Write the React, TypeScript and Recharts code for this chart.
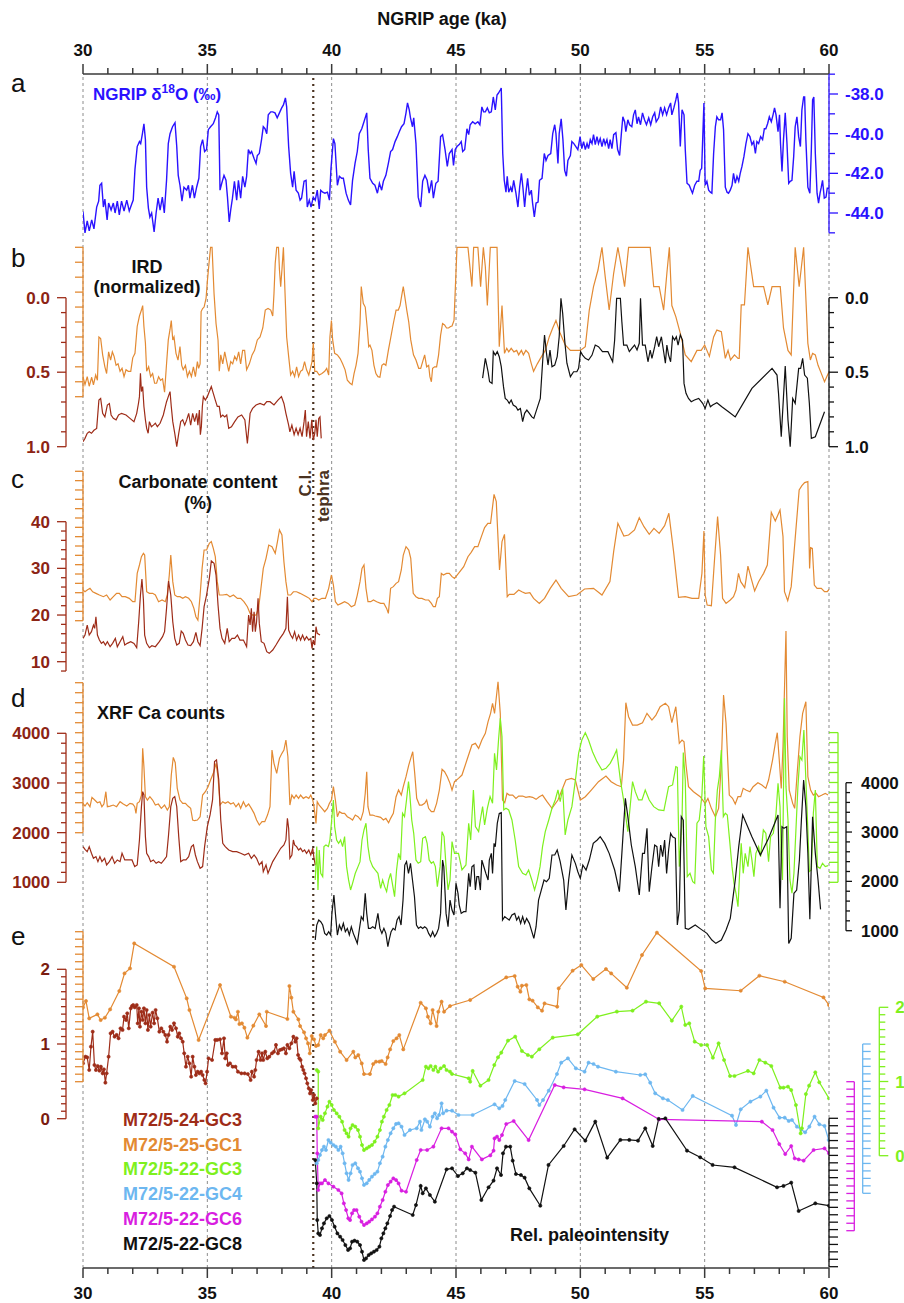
import React from "react";
import { ComposedChart, Line, XAxis, YAxis, ReferenceLine } from "recharts";

const W = 904;
const H = 1303;
const PLOT_TOP = 74;
const PLOT_BOTTOM = 1268;
const PLOT_LEFT = 83;
const PLOT_RIGHT = 829;
const FONT = '"Liberation Sans", Arial, Helvetica, sans-serif';

const C = {
  blue: "#2a12ff",
  orange: "#e38a33",
  red: "#9e2c18",
  redText: "#8c2414",
  green: "#7ef01e",
  lblue: "#6db7f0",
  magenta: "#d81ee0",
  black: "#111111",
  brown: "#4a3220",
  grid: "#8c8c8c",
  axis: "#3a3a3a",
};

// ---------- axis ticks ----------
const AGE_DOMAIN: [number, number] = [30, 60];
const AGE_TICKS = [30,31,32,33,34,35,36,37,38,39,40,41,42,43,44,45,46,47,48,49,50,51,52,53,54,55,56,57,58,59,60];
const AGE_GRID = [30, 35, 40, 45, 50, 55, 60];
const TEPHRA_AGE = 39.26;
const D18O_TICKS = [-37, -38, -39, -40, -41, -42, -43, -44, -45];
const D18O_LABELS = [-38, -40, -42, -44];
const IRD_TICKS = [0, 0.1, 0.2, 0.3, 0.4, 0.5, 0.6, 0.7, 0.8, 0.9, 1];
const IRD_LABELS = [0, 0.5, 1];
const CARB3_TICKS = [8,10,12,14,16,18,20,22,24,26,28,30,32,34,36,38,40];
const CARB1_TICKS = [20,22,24,26,28,30,32,34,36,38,40,42,44,46,48,50,52];
const CARB_LABELS = [10, 20, 30, 40];
const XRF_TICKS = [1000,1200,1400,1600,1800,2000,2200,2400,2600,2800,3000,3200,3400,3600,3800,4000];
const XRF_LABELS = [1000, 2000, 3000, 4000];
const RPI_TICKS = [0,0.1,0.2,0.3,0.4,0.5,0.6,0.7,0.8,0.9,1,1.1,1.2,1.3,1.4,1.5,1.6,1.7,1.8,1.9,2];
const RPI_LABELS = [0, 1, 2];

// ---------- data: [age ka, value] ----------
const NGRIP_D18O = [
[30.0,-43.93],[30.08,-45.0],[30.17,-44.4],[30.25,-44.9],[30.35,-44.35],[30.44,-44.8],[30.55,-43.7],[30.63,-43.4],[30.68,-42.6],[30.75,-42.5],[30.82,-43.7],[30.88,-43.3],[30.97,-44.35],[31.03,-43.5],[31.13,-43.85],[31.22,-43.5],[31.29,-44.0],[31.38,-43.4],[31.46,-44.1],[31.55,-43.4],[31.65,-43.9],[31.76,-43.35],[31.86,-43.9],[31.96,-43.55],[32.02,-43.35],[32.09,-41.8],[32.18,-40.65],[32.27,-40.4],[32.32,-40.5],[32.39,-40.0],[32.45,-39.5],[32.51,-40.3],[32.56,-42.7],[32.63,-43.75],[32.69,-44.2],[32.76,-44.0],[32.86,-44.95],[32.94,-44.0],[33.02,-43.25],[33.1,-43.85],[33.19,-43.2],[33.27,-44.0],[33.36,-42.35],[33.43,-40.5],[33.5,-40.0],[33.6,-39.65],[33.7,-39.45],[33.77,-40.65],[33.83,-42.1],[33.9,-42.6],[33.98,-43.4],[34.06,-42.7],[34.17,-42.85],[34.24,-42.6],[34.3,-43.25],[34.4,-42.6],[34.48,-43.25],[34.57,-42.7],[34.66,-42.25],[34.73,-40.65],[34.81,-40.3],[34.89,-40.9],[34.97,-40.8],[35.04,-39.8],[35.13,-39.65],[35.24,-39.5],[35.33,-39.2],[35.4,-38.9],[35.46,-39.05],[35.51,-42.85],[35.58,-42.5],[35.67,-42.1],[35.75,-42.35],[35.81,-43.2],[35.88,-44.45],[35.94,-43.85],[36.01,-43.25],[36.09,-42.4],[36.18,-43.35],[36.25,-42.35],[36.34,-43.25],[36.42,-42.15],[36.51,-42.7],[36.58,-42.15],[36.65,-40.8],[36.72,-41.0],[36.78,-40.9],[36.88,-41.25],[36.96,-41.5],[37.01,-41.1],[37.09,-41.0],[37.18,-40.3],[37.25,-39.65],[37.32,-39.75],[37.39,-40.0],[37.45,-39.05],[37.55,-38.9],[37.63,-38.9],[37.72,-38.95],[37.81,-39.2],[37.9,-38.95],[37.99,-38.7],[38.06,-38.55],[38.14,-38.2],[38.19,-38.65],[38.27,-40.65],[38.35,-42.0],[38.43,-42.7],[38.49,-41.9],[38.57,-42.85],[38.66,-43.0],[38.73,-43.35],[38.79,-43.25],[38.89,-42.4],[38.97,-42.35],[39.02,-43.7],[39.1,-43.35],[39.17,-43.7],[39.26,-43.2],[39.34,-43.35],[39.42,-42.85],[39.5,-43.8],[39.56,-42.85],[39.64,-42.95],[39.73,-43.0],[39.83,-42.95],[39.91,-43.35],[39.97,-41.8],[40.07,-40.25],[40.13,-40.5],[40.23,-42.6],[40.31,-42.15],[40.4,-42.25],[40.47,-42.25],[40.58,-43.0],[40.67,-43.35],[40.76,-43.6],[40.84,-42.35],[40.94,-41.5],[41.03,-40.9],[41.11,-40.0],[41.21,-39.75],[41.3,-39.4],[41.41,-38.95],[41.47,-40.8],[41.54,-42.25],[41.65,-42.5],[41.74,-42.6],[41.84,-43.0],[41.92,-42.5],[42.01,-42.85],[42.08,-42.4],[42.18,-42.1],[42.28,-41.5],[42.37,-40.9],[42.45,-40.8],[42.55,-40.4],[42.64,-40.15],[42.72,-39.9],[42.81,-39.65],[42.91,-39.5],[42.99,-38.95],[43.05,-38.45],[43.12,-38.8],[43.17,-39.2],[43.25,-39.65],[43.3,-39.2],[43.39,-40.5],[43.48,-43.2],[43.58,-43.7],[43.66,-42.4],[43.75,-42.1],[43.84,-42.35],[43.92,-43.0],[44.02,-42.35],[44.09,-43.25],[44.19,-42.5],[44.28,-42.4],[44.38,-40.15],[44.46,-40.05],[44.56,-40.8],[44.65,-41.65],[44.73,-41.0],[44.84,-40.8],[44.9,-41.6],[44.97,-40.8],[45.04,-40.65],[45.13,-40.55],[45.21,-40.4],[45.27,-40.9],[45.35,-40.8],[45.44,-39.75],[45.51,-40.05],[45.57,-39.55],[45.67,-39.4],[45.77,-39.5],[45.88,-39.4],[45.96,-39.55],[46.04,-38.65],[46.11,-38.9],[46.18,-38.9],[46.26,-38.7],[46.34,-38.95],[46.42,-38.9],[46.5,-38.15],[46.58,-38.8],[46.65,-38.05],[46.71,-37.95],[46.78,-37.8],[46.82,-37.7],[46.88,-41.0],[46.94,-42.35],[47.01,-42.95],[47.06,-42.15],[47.12,-42.95],[47.2,-42.7],[47.25,-42.95],[47.32,-42.35],[47.41,-43.0],[47.49,-43.7],[47.56,-42.7],[47.63,-42.0],[47.69,-42.7],[47.76,-43.7],[47.81,-43.0],[47.88,-42.25],[47.95,-43.1],[48.03,-42.85],[48.08,-43.5],[48.15,-44.2],[48.22,-43.5],[48.3,-43.45],[48.36,-42.35],[48.46,-42.25],[48.55,-41.0],[48.62,-41.35],[48.7,-41.1],[48.81,-41.0],[48.89,-40.0],[48.97,-39.55],[49.02,-40.0],[49.1,-41.5],[49.15,-40.0],[49.23,-39.25],[49.3,-40.3],[49.37,-41.85],[49.44,-42.15],[49.5,-41.35],[49.6,-41.1],[49.66,-40.4],[49.74,-40.5],[49.82,-40.65],[49.9,-40.8],[49.99,-40.15],[50.06,-40.75],[50.13,-40.4],[50.2,-40.8],[50.27,-40.5],[50.33,-40.75],[50.4,-40.3],[50.47,-40.5],[50.53,-40.05],[50.6,-40.55],[50.67,-40.15],[50.73,-40.5],[50.8,-40.25],[50.87,-40.65],[50.94,-40.25],[51.0,-40.55],[51.07,-40.3],[51.14,-40.75],[51.2,-40.3],[51.27,-40.75],[51.34,-40.05],[51.43,-39.95],[51.5,-40.8],[51.58,-41.1],[51.65,-40.0],[51.71,-39.15],[51.78,-39.4],[51.83,-39.9],[51.91,-39.3],[51.98,-39.55],[52.07,-39.65],[52.14,-39.05],[52.21,-38.8],[52.28,-39.5],[52.34,-39.15],[52.42,-39.55],[52.5,-38.95],[52.58,-39.3],[52.66,-39.55],[52.75,-39.2],[52.83,-39.55],[52.91,-39.15],[52.99,-38.95],[53.05,-39.4],[53.15,-39.2],[53.23,-38.65],[53.31,-39.05],[53.39,-38.7],[53.47,-39.05],[53.55,-38.7],[53.63,-38.45],[53.68,-39.05],[53.76,-38.7],[53.84,-38.3],[53.9,-37.95],[53.95,-38.45],[54.02,-40.65],[54.09,-38.8],[54.17,-39.05],[54.22,-40.8],[54.29,-42.5],[54.38,-42.6],[54.46,-42.85],[54.51,-43.0],[54.6,-42.6],[54.69,-42.4],[54.76,-42.4],[54.82,-41.85],[54.88,-41.75],[54.92,-40.3],[54.97,-38.45],[55.02,-42.6],[55.09,-42.4],[55.16,-42.85],[55.23,-42.95],[55.29,-43.0],[55.36,-41.0],[55.43,-39.65],[55.49,-39.15],[55.56,-39.3],[55.64,-39.3],[55.7,-38.95],[55.76,-39.8],[55.83,-42.7],[55.9,-42.95],[55.96,-43.0],[56.03,-42.85],[56.1,-42.6],[56.16,-42.0],[56.23,-42.5],[56.3,-42.15],[56.37,-42.4],[56.43,-42.0],[56.5,-41.65],[56.58,-41.15],[56.66,-40.5],[56.74,-40.0],[56.82,-40.15],[56.9,-40.55],[56.97,-40.4],[57.04,-41.0],[57.1,-40.4],[57.17,-40.5],[57.25,-40.15],[57.33,-40.3],[57.4,-39.75],[57.46,-39.75],[57.53,-39.5],[57.6,-39.15],[57.68,-39.4],[57.75,-39.05],[57.81,-38.7],[57.87,-39.05],[57.95,-39.9],[58.01,-39.05],[58.05,-40.5],[58.11,-41.9],[58.17,-40.3],[58.24,-38.95],[58.31,-40.5],[58.38,-42.5],[58.44,-42.4],[58.51,-42.35],[58.58,-41.15],[58.64,-39.65],[58.71,-39.15],[58.78,-40.15],[58.85,-40.65],[58.91,-38.8],[58.98,-38.15],[59.02,-38.15],[59.07,-40.3],[59.15,-42.7],[59.23,-43.0],[59.29,-40.8],[59.34,-38.3],[59.39,-38.15],[59.45,-41.0],[59.52,-43.0],[59.58,-43.5],[59.64,-43.0],[59.69,-42.7],[59.74,-42.35],[59.81,-43.25],[59.88,-43.2],[59.93,-42.75],[60.0,-42.75]
];

const IRD_25GC1 = [
[30.0,0.866],[30.08,0.92],[30.17,0.866],[30.25,0.93],[30.35,0.87],[30.42,0.92],[30.51,0.855],[30.58,0.89],[30.64,0.6],[30.71,0.61],[30.79,0.72],[30.88,0.8],[30.95,0.845],[31.03,0.7],[31.11,0.755],[31.18,0.7],[31.25,0.73],[31.33,0.79],[31.41,0.78],[31.49,0.83],[31.57,0.81],[31.65,0.866],[31.73,0.82],[31.82,0.83],[31.92,0.83],[32.0,0.74],[32.09,0.71],[32.18,0.53],[32.27,0.46],[32.35,0.42],[32.4,0.39],[32.45,0.53],[32.51,0.64],[32.56,0.83],[32.64,0.8],[32.72,0.866],[32.8,0.845],[32.88,0.91],[32.96,0.91],[33.04,0.866],[33.12,0.89],[33.2,0.88],[33.28,0.97],[33.36,0.78],[33.43,0.62],[33.5,0.55],[33.55,0.49],[33.61,0.62],[33.66,0.6],[33.74,0.71],[33.82,0.755],[33.9,0.665],[33.97,0.79],[34.03,0.82],[34.12,0.79],[34.2,0.866],[34.28,0.83],[34.36,0.866],[34.44,0.8],[34.52,0.866],[34.6,0.765],[34.65,0.81],[34.71,0.78],[34.75,0.43],[34.81,0.41],[34.87,0.4],[34.95,0.34],[35.0,0.23],[35.08,0.085],[35.13,0.0],[35.19,0.0],[35.27,0.31],[35.35,0.51],[35.43,0.62],[35.48,0.83],[35.54,0.72],[35.62,0.78],[35.7,0.7],[35.78,0.765],[35.86,0.83],[35.94,0.765],[36.02,0.78],[36.1,0.73],[36.18,0.755],[36.26,0.7],[36.34,0.78],[36.42,0.69],[36.5,0.69],[36.58,0.82],[36.69,0.78],[36.8,0.72],[36.9,0.69],[37.01,0.62],[37.12,0.6],[37.23,0.54],[37.33,0.42],[37.44,0.41],[37.55,0.42],[37.63,0.46],[37.68,0.31],[37.73,0.107],[37.79,0.0],[37.86,0.0],[37.9,0.15],[37.95,0.263],[38.0,0.15],[38.06,0.0],[38.12,0.286],[38.19,0.6],[38.27,0.73],[38.35,0.855],[38.43,0.83],[38.51,0.866],[38.59,0.8],[38.67,0.866],[38.75,0.83],[38.83,0.82],[38.91,0.765],[38.99,0.82],[39.08,0.855],[39.16,0.8],[39.21,0.765],[39.26,0.64],[39.32,0.83],[39.4,0.83],[39.5,0.855],[39.61,0.845],[39.72,0.83],[39.8,0.81],[39.88,0.855],[39.93,0.6],[39.99,0.49],[40.04,0.62],[40.12,0.71],[40.23,0.72],[40.34,0.745],[40.44,0.78],[40.54,0.82],[40.63,0.89],[40.74,0.91],[40.82,0.92],[40.9,0.845],[40.98,0.79],[41.06,0.71],[41.14,0.51],[41.19,0.263],[41.27,0.375],[41.35,0.4],[41.43,0.54],[41.49,0.665],[41.54,0.655],[41.62,0.69],[41.7,0.79],[41.78,0.845],[41.86,0.866],[41.94,0.87],[42.02,0.79],[42.1,0.78],[42.18,0.79],[42.28,0.69],[42.37,0.61],[42.48,0.51],[42.59,0.42],[42.68,0.42],[42.75,0.39],[42.83,0.31],[42.88,0.263],[42.95,0.34],[43.02,0.42],[43.1,0.5],[43.18,0.62],[43.29,0.72],[43.39,0.755],[43.5,0.81],[43.58,0.81],[43.66,0.765],[43.74,0.72],[43.82,0.8],[43.9,0.79],[43.95,0.866],[44.01,0.9],[44.06,0.81],[44.14,0.8],[44.22,0.8],[44.3,0.72],[44.38,0.59],[44.46,0.51],[44.54,0.52],[44.62,0.54],[44.7,0.54],[44.78,0.53],[44.84,0.527],[44.92,0.49],[44.97,0.286],[45.04,0.0],[45.24,0.0],[45.48,0.0],[45.64,0.263],[45.71,0.0],[45.88,0.0],[45.99,0.263],[46.1,0.0],[46.18,0.13],[46.26,0.39],[46.38,0.0],[46.65,0.0],[46.74,0.665],[46.85,0.39],[46.95,0.71],[47.04,0.676],[47.12,0.7],[47.22,0.676],[47.33,0.7],[47.44,0.69],[47.52,0.72],[47.63,0.69],[47.71,0.72],[47.81,0.69],[47.92,0.71],[48.03,0.78],[48.12,0.83],[48.27,0.78],[48.39,0.745],[48.59,0.69],[48.75,0.6],[48.89,0.54],[49.02,0.49],[49.19,0.576],[49.39,0.654],[49.6,0.69],[49.8,0.69],[50.0,0.69],[50.2,0.665],[50.36,0.42],[50.53,0.263],[50.71,0.152],[50.87,0.0],[51.0,0.196],[51.16,0.42],[51.34,0.174],[51.51,0.0],[51.65,0.13],[51.78,0.263],[51.94,0.0],[52.34,0.0],[52.81,0.0],[52.95,0.263],[53.17,0.263],[53.35,0.42],[53.48,0.174],[53.58,0.0],[53.68,0.39],[53.84,0.464],[54.02,0.576],[54.22,0.72],[54.46,0.765],[54.69,0.69],[54.86,0.69],[55.0,0.654],[55.19,0.73],[55.36,0.6],[55.49,0.554],[55.67,0.565],[55.83,0.743],[55.94,0.69],[56.04,0.754],[56.2,0.72],[56.34,0.743],[56.39,0.743],[56.47,0.386],[56.6,0.386],[56.74,0.0],[56.97,0.263],[57.37,0.263],[57.54,0.386],[57.71,0.263],[58.04,0.263],[58.17,0.54],[58.35,0.69],[58.48,0.72],[58.64,0.0],[58.8,0.263],[58.98,0.0],[59.15,0.643],[59.25,0.754],[59.34,0.71],[59.45,0.72],[59.56,0.79],[59.69,0.844],[59.82,0.9],[60.0,0.833]
];

const IRD_24GC3 = [
[30.0,0.966],[30.08,0.944],[30.17,0.91],[30.25,0.9],[30.34,0.91],[30.44,0.89],[30.55,0.877],[30.64,0.687],[30.71,0.676],[30.79,0.776],[30.88,0.8],[30.98,0.72],[31.06,0.71],[31.13,0.787],[31.22,0.81],[31.33,0.82],[31.43,0.787],[31.55,0.776],[31.73,0.787],[31.89,0.81],[32.05,0.832],[32.16,0.776],[32.23,0.71],[32.27,0.664],[32.31,0.508],[32.35,0.63],[32.4,0.597],[32.45,0.73],[32.51,0.82],[32.56,0.877],[32.62,0.91],[32.67,0.832],[32.75,0.866],[32.83,0.855],[32.91,0.843],[32.99,0.866],[33.1,0.843],[33.23,0.787],[33.36,0.698],[33.43,0.664],[33.5,0.63],[33.55,0.73],[33.61,0.832],[33.69,0.91],[33.77,1.0],[33.85,0.91],[33.93,0.832],[34.01,0.82],[34.09,0.855],[34.17,0.82],[34.25,0.776],[34.33,0.855],[34.41,0.776],[34.49,0.832],[34.57,0.776],[34.62,0.855],[34.68,0.754],[34.72,0.92],[34.76,0.866],[34.8,0.73],[34.84,0.664],[34.92,0.687],[35.0,0.664],[35.08,0.63],[35.16,0.597],[35.24,0.642],[35.32,0.687],[35.4,0.73],[35.48,0.73],[35.54,0.8],[35.62,0.787],[35.7,0.8],[35.78,0.787],[35.86,0.877],[35.97,0.866],[36.1,0.832],[36.23,0.8],[36.38,0.787],[36.51,0.82],[36.61,0.978],[36.72,0.776],[36.82,0.743],[36.96,0.72],[37.12,0.71],[37.28,0.72],[37.39,0.698],[37.52,0.698],[37.68,0.72],[37.84,0.687],[37.98,0.664],[38.08,0.71],[38.16,0.776],[38.27,0.855],[38.32,0.9],[38.4,0.855],[38.49,0.92],[38.57,0.877],[38.65,0.92],[38.73,0.877],[38.81,0.933],[38.89,0.832],[38.94,0.754],[38.99,0.933],[39.06,0.832],[39.13,0.944],[39.2,0.82],[39.26,0.955],[39.32,0.91],[39.37,0.82],[39.42,0.933],[39.48,0.81],[39.53,0.8],[39.58,0.944]
];

const IRD_22GC8 = [
[46.07,0.54],[46.18,0.407],[46.29,0.497],[46.35,0.564],[46.45,0.575],[46.5,0.362],[46.58,0.385],[46.66,0.362],[46.74,0.396],[46.82,0.463],[46.91,0.597],[46.98,0.676],[47.06,0.687],[47.14,0.709],[47.22,0.687],[47.3,0.72],[47.41,0.732],[47.49,0.754],[47.59,0.743],[47.68,0.832],[47.76,0.776],[47.85,0.754],[47.95,0.776],[48.05,0.8],[48.13,0.81],[48.26,0.743],[48.39,0.676],[48.48,0.44],[48.56,0.25],[48.64,0.374],[48.7,0.452],[48.78,0.351],[48.86,0.463],[48.97,0.452],[49.07,0.396],[49.15,0.262],[49.22,0.004],[49.29,0.105],[49.37,0.284],[49.46,0.44],[49.6,0.53],[49.73,0.497],[49.86,0.497],[49.93,0.474],[50.01,0.362],[50.09,0.385],[50.2,0.407],[50.33,0.418],[50.47,0.385],[50.6,0.318],[50.73,0.329],[50.89,0.362],[51.11,0.362],[51.3,0.43],[51.38,0.284],[51.46,0.004],[51.61,0.004],[51.67,0.161],[51.74,0.318],[51.87,0.318],[51.97,0.362],[52.07,0.34],[52.18,0.318],[52.28,0.351],[52.37,0.306],[52.42,0.004],[52.5,0.318],[52.61,0.318],[52.72,0.43],[52.81,0.351],[52.88,0.407],[52.99,0.329],[53.07,0.262],[53.15,0.329],[53.26,0.262],[53.34,0.351],[53.42,0.44],[53.48,0.318],[53.55,0.385],[53.63,0.43],[53.71,0.262],[53.79,0.284],[53.86,0.262],[53.93,0.318],[54.02,0.25],[54.11,0.284],[54.17,0.575],[54.25,0.642],[54.35,0.676],[54.46,0.698],[54.59,0.687],[54.76,0.676],[54.92,0.709],[55.02,0.743],[55.13,0.687],[55.23,0.732],[55.32,0.72],[55.49,0.705],[55.69,0.732],[55.96,0.765],[56.23,0.8],[56.9,0.609],[57.71,0.474],[57.91,0.519],[57.97,0.642],[58.08,0.933],[58.17,0.664],[58.24,0.459],[58.35,0.82],[58.44,1.0],[58.54,0.676],[58.64,0.709],[58.78,0.474],[58.86,0.474],[58.94,0.407],[59.02,0.519],[59.13,0.54],[59.21,0.709],[59.29,0.944],[59.45,0.933],[59.82,0.765]
];

const CARB_25GC1 = [
[30.0,26.57],[30.08,26.2],[30.17,26.57],[30.28,26.93],[30.39,26.2],[30.52,25.86],[30.66,25.5],[30.82,25.14],[30.95,25.5],[31.09,24.43],[31.22,25.14],[31.35,25.86],[31.46,25.86],[31.57,25.14],[31.7,25.14],[31.86,24.79],[32.0,24.07],[32.09,24.07],[32.18,30.14],[32.27,31.93],[32.35,33.71],[32.43,34.43],[32.48,34.07],[32.56,26.2],[32.67,25.86],[32.8,25.86],[32.91,25.5],[33.04,24.07],[33.18,24.43],[33.31,24.07],[33.39,25.5],[33.47,29.79],[33.53,34.07],[33.61,28.36],[33.69,25.5],[33.79,25.14],[33.9,25.14],[34.01,24.79],[34.12,25.14],[34.25,24.79],[34.36,24.07],[34.46,22.64],[34.54,20.86],[34.62,20.14],[34.71,25.5],[34.79,31.21],[34.87,35.14],[34.97,35.14],[35.08,36.57],[35.16,36.93],[35.24,35.5],[35.32,33.71],[35.4,28.36],[35.48,25.5],[35.62,25.5],[35.78,25.64],[35.91,25.14],[36.05,25.5],[36.21,24.79],[36.34,24.79],[36.47,24.07],[36.61,23.0],[36.72,21.57],[36.82,21.21],[36.96,21.21],[37.06,22.64],[37.14,26.2],[37.25,31.21],[37.36,33.36],[37.47,36.21],[37.6,35.86],[37.73,34.43],[37.82,36.93],[37.9,39.43],[38.0,38.36],[38.08,32.64],[38.16,28.36],[38.24,25.5],[38.35,25.5],[38.46,26.2],[38.59,26.2],[38.73,25.86],[38.86,25.5],[38.99,25.14],[39.1,24.79],[39.21,24.07],[39.29,24.79],[39.37,24.79],[39.48,24.43],[39.61,24.79],[39.75,24.79],[39.88,26.93],[39.99,29.79],[40.07,27.64],[40.15,24.07],[40.25,23.36],[40.39,23.71],[40.52,24.07],[40.66,23.71],[40.79,23.0],[40.93,23.36],[41.03,25.5],[41.14,28.36],[41.22,31.21],[41.3,31.93],[41.38,26.93],[41.46,24.07],[41.57,24.07],[41.68,24.43],[41.81,24.07],[41.97,23.71],[42.1,23.71],[42.21,22.64],[42.28,21.57],[42.37,26.93],[42.48,27.29],[42.59,28.0],[42.69,28.36],[42.8,30.86],[42.88,34.07],[42.99,35.86],[43.1,35.14],[43.18,33.36],[43.28,25.86],[43.39,25.14],[43.5,24.79],[43.63,24.79],[43.77,24.43],[43.9,24.43],[44.01,23.71],[44.09,23.0],[44.17,23.0],[44.25,24.79],[44.33,25.14],[44.41,30.14],[44.49,29.79],[44.62,30.14],[44.73,30.14],[44.84,29.43],[44.94,29.07],[45.1,30.14],[45.31,31.57],[45.48,33.71],[45.61,34.64],[45.75,35.86],[45.88,35.86],[46.02,38.0],[46.15,39.93],[46.28,40.86],[46.39,40.86],[46.53,47.07],[46.62,45.5],[46.75,30.86],[46.85,36.93],[46.95,38.5],[47.06,25.14],[47.14,25.64],[47.33,25.64],[47.52,26.57],[47.65,26.21],[47.79,25.86],[47.97,26.0],[48.12,24.79],[48.35,23.71],[48.56,24.79],[48.79,26.93],[49.02,28.71],[49.23,26.93],[49.53,25.14],[49.86,25.5],[50.17,26.79],[50.53,26.93],[50.87,25.5],[51.19,28.36],[51.34,34.79],[51.51,40.86],[51.75,38.14],[51.94,38.36],[52.18,39.43],[52.37,42.07],[52.56,40.14],[52.77,38.5],[52.96,39.79],[53.17,38.71],[53.39,40.36],[53.56,43.0],[53.75,34.79],[53.95,25.0],[54.22,25.14],[54.49,24.79],[54.76,24.79],[54.89,30.14],[54.97,39.21],[55.02,25.5],[55.1,23.36],[55.27,23.21],[55.4,33.36],[55.52,42.29],[55.64,34.07],[55.72,24.79],[55.86,23.71],[56.03,24.43],[56.16,25.14],[56.26,26.57],[56.36,30.14],[56.45,28.36],[56.61,27.07],[56.66,28.71],[56.74,31.71],[56.87,29.07],[57.01,26.36],[57.17,28.36],[57.37,30.14],[57.52,31.93],[57.68,43.21],[57.84,41.36],[58.03,43.71],[58.15,38.0],[58.21,26.21],[58.34,24.29],[58.48,27.29],[58.64,37.64],[58.8,48.0],[58.91,48.93],[59.02,49.57],[59.15,49.79],[59.22,31.21],[59.26,35.64],[59.33,35.5],[59.41,27.64],[59.52,26.93],[59.69,26.93],[59.82,26.21],[59.93,26.21],[60.0,26.71]
];

const CARB_24GC3 = [
[30.0,15.0],[30.08,15.71],[30.17,17.86],[30.25,15.71],[30.34,16.43],[30.42,17.86],[30.47,17.14],[30.52,19.64],[30.58,15.71],[30.66,14.64],[30.74,13.93],[30.82,14.29],[30.9,13.57],[30.98,14.29],[31.09,13.21],[31.19,13.93],[31.3,15.0],[31.38,13.21],[31.49,14.29],[31.6,15.36],[31.68,13.57],[31.78,13.93],[31.92,14.29],[32.05,13.93],[32.16,13.0],[32.24,18.57],[32.31,24.29],[32.37,27.71],[32.43,23.21],[32.48,15.71],[32.56,13.93],[32.67,13.0],[32.77,13.43],[32.91,13.21],[33.07,14.29],[33.2,15.36],[33.28,16.43],[33.36,21.43],[33.44,27.29],[33.53,24.29],[33.61,18.57],[33.69,15.0],[33.77,13.57],[33.87,13.93],[33.95,16.57],[34.03,16.07],[34.12,14.64],[34.22,13.57],[34.33,13.43],[34.44,14.29],[34.54,16.29],[34.62,14.29],[34.71,13.43],[34.79,17.14],[34.87,21.79],[34.97,24.29],[35.08,27.86],[35.16,31.57],[35.27,31.07],[35.35,28.57],[35.43,22.14],[35.51,17.14],[35.59,15.0],[35.7,13.93],[35.8,17.14],[35.88,14.29],[35.99,15.0],[36.1,15.0],[36.21,15.71],[36.31,14.64],[36.45,14.64],[36.58,13.21],[36.66,20.0],[36.72,17.86],[36.77,21.43],[36.82,16.43],[36.88,20.71],[36.93,16.43],[36.98,18.57],[37.04,23.57],[37.09,18.21],[37.17,14.29],[37.28,13.93],[37.39,12.14],[37.49,11.79],[37.63,12.5],[37.76,13.57],[37.92,15.0],[38.06,16.07],[38.16,17.14],[38.22,23.93],[38.27,16.79],[38.35,15.71],[38.43,15.0],[38.51,16.43],[38.59,14.64],[38.67,15.71],[38.75,14.64],[38.83,15.71],[38.91,14.64],[38.99,15.36],[39.08,14.64],[39.16,15.0],[39.21,12.86],[39.26,14.64],[39.32,13.57],[39.37,17.5],[39.42,16.07],[39.53,15.71]
];

const XRF_25GC1 = [
[30.0,1587],[30.08,1533],[30.17,1600],[30.28,1520],[30.36,1707],[30.47,1653],[30.58,1600],[30.68,1620],[30.76,1520],[30.84,1573],[30.92,1820],[30.98,1520],[31.09,1533],[31.22,1553],[31.35,1520],[31.49,1620],[31.62,1573],[31.76,1533],[31.89,1587],[32.0,1573],[32.08,1520],[32.13,1387],[32.18,1587],[32.27,1620],[32.35,1753],[32.4,2687],[32.45,2320],[32.51,1720],[32.59,1653],[32.69,1720],[32.8,1653],[32.91,1553],[33.03,1573],[33.15,1487],[33.28,1553],[33.39,1453],[33.47,1520],[33.55,2153],[33.63,2507],[33.71,2400],[33.79,1887],[33.9,1653],[34.01,1587],[34.12,1587],[34.22,1533],[34.33,1487],[34.41,1253],[34.49,1240],[34.6,1253],[34.71,1320],[34.81,1753],[34.92,1820],[35.03,1920],[35.13,2053],[35.24,2187],[35.35,2387],[35.43,2120],[35.51,1553],[35.62,1620],[35.72,1587],[35.83,1620],[35.94,1573],[36.05,1600],[36.15,1520],[36.26,1587],[36.34,1487],[36.45,1620],[36.55,1520],[36.66,1573],[36.77,1487],[36.88,1387],[36.98,1253],[37.09,1153],[37.2,1220],[37.31,1220],[37.42,1353],[37.52,1520],[37.6,2653],[37.68,2387],[37.79,2187],[37.9,2487],[38.0,2587],[38.08,2653],[38.16,2853],[38.24,2520],[38.32,1553],[38.4,1753],[38.49,1687],[38.57,1753],[38.67,1687],[38.75,1753],[38.86,1687],[38.97,1720],[39.08,1687],[39.16,1753],[39.24,1653],[39.29,1520],[39.37,1187],[39.42,1620],[39.5,1553],[39.61,1487],[39.72,1420],[39.83,1487],[39.91,1587],[39.99,1653],[40.07,1920],[40.15,1653],[40.23,1320],[40.31,1420],[40.42,1387],[40.52,1387],[40.63,1320],[40.74,1287],[40.84,1253],[40.95,1353],[41.06,1320],[41.17,1253],[41.27,1420],[41.35,1787],[41.41,2220],[41.46,1520],[41.54,1353],[41.65,1353],[41.75,1333],[41.86,1320],[41.97,1307],[42.08,1253],[42.18,1287],[42.29,1200],[42.37,1287],[42.48,1387],[42.59,1720],[42.69,1853],[42.8,1753],[42.88,1920],[42.99,2120],[43.1,2353],[43.18,2487],[43.26,2620],[43.34,2187],[43.42,1687],[43.53,1553],[43.63,1553],[43.74,1587],[43.82,1653],[43.9,1487],[44.01,1420],[44.11,1420],[44.22,1587],[44.33,1853],[44.44,2267],[44.54,2220],[44.65,2120],[44.76,1987],[44.84,1853],[44.94,2020],[45.1,2087],[45.24,2153],[45.44,2453],[45.64,2753],[45.78,2787],[45.91,2687],[46.04,2853],[46.18,2987],[46.29,3220],[46.39,3387],[46.47,3587],[46.55,3387],[46.61,3653],[46.69,4020],[46.78,3387],[46.87,1653],[46.96,1600],[47.05,1787],[47.14,1753],[47.28,1753],[47.41,1687],[47.52,1733],[47.68,1733],[47.81,1707],[47.95,1720],[48.08,1707],[48.22,1667],[48.35,1720],[48.48,1753],[48.66,1620],[48.86,1487],[49.1,1653],[49.26,1853],[49.42,2053],[49.64,2087],[49.8,2053],[50.0,1653],[50.2,1720],[50.44,1853],[50.73,2020],[51.03,2133],[51.24,2020],[51.46,1953],[51.65,1920],[51.74,2453],[51.83,3600],[51.94,3320],[52.1,3153],[52.29,3153],[52.5,3200],[52.68,3387],[52.88,3253],[53.04,3353],[53.21,3520],[53.42,3587],[53.55,3520],[53.68,3200],[53.84,3520],[53.98,2787],[54.09,2853],[54.17,2820],[54.25,2353],[54.35,1920],[54.55,1820],[54.82,1720],[55.02,1587],[55.13,1687],[55.27,1487],[55.43,1320],[55.56,1487],[55.67,2387],[55.76,3753],[55.86,3187],[55.99,1753],[56.12,1687],[56.23,1573],[56.34,1720],[56.45,1720],[56.55,1887],[56.66,1853],[56.82,1820],[56.95,1920],[57.14,2000],[57.3,1953],[57.46,1887],[57.57,2053],[57.73,2453],[57.84,2787],[57.92,3000],[58.0,2453],[58.08,1887],[58.15,2720],[58.27,5033],[58.32,2920],[58.4,1853],[58.54,1587],[58.62,1487],[58.72,2187],[58.83,2920],[58.94,3387],[59.07,3620],[59.15,2120],[59.26,1853],[59.37,1753],[59.48,1787],[59.58,1720],[59.72,1753],[59.85,1787],[59.96,1753]
];

const XRF_24GC3 = [
[30.0,1718],[30.08,1664],[30.17,1617],[30.25,1718],[30.34,1584],[30.42,1483],[30.52,1517],[30.6,1416],[30.68,1517],[30.76,1416],[30.87,1483],[30.95,1349],[31.06,1416],[31.17,1517],[31.27,1383],[31.38,1450],[31.49,1416],[31.57,1584],[31.68,1450],[31.81,1450],[31.97,1450],[32.08,1316],[32.18,1349],[32.27,1852],[32.35,2524],[32.4,2826],[32.45,2758],[32.51,1920],[32.56,1584],[32.64,1517],[32.72,1416],[32.83,1450],[32.94,1383],[33.04,1416],[33.15,1383],[33.26,1450],[33.36,1517],[33.44,1953],[33.53,2524],[33.61,2691],[33.69,2725],[33.77,2524],[33.85,1920],[33.93,1416],[34.03,1450],[34.14,1450],[34.25,1517],[34.36,1718],[34.44,1752],[34.52,1550],[34.6,1416],[34.71,1282],[34.81,1316],[34.89,1718],[35.0,2121],[35.11,2356],[35.21,2658],[35.29,3430],[35.37,3463],[35.46,3060],[35.54,2255],[35.62,1785],[35.72,1718],[35.86,1651],[36.02,1617],[36.18,1617],[36.34,1584],[36.5,1550],[36.66,1584],[36.77,1483],[36.88,1550],[36.98,1483],[37.09,1349],[37.2,1416],[37.25,1215],[37.36,1349],[37.44,1181],[37.52,1282],[37.63,1416],[37.79,1550],[37.95,1685],[38.08,1752],[38.16,1852],[38.22,2289],[38.27,2087],[38.32,1483],[38.4,1550],[38.46,1852],[38.51,1752],[38.59,1718],[38.67,1651],[38.75,1685],[38.83,1617],[38.91,1651],[38.99,1584],[39.08,1651],[39.16,1550],[39.24,1685],[39.29,1483],[39.34,1349]
];

const XRF_22GC3 = [
[39.34,1047],[39.4,1715],[39.45,846],[39.5,1648],[39.56,1180],[39.64,1114],[39.69,1715],[39.77,1748],[39.87,1715],[39.93,1848],[40.0,2249],[40.07,2650],[40.12,2116],[40.2,1848],[40.28,1782],[40.36,1848],[40.44,1715],[40.52,1915],[40.6,1314],[40.68,1047],[40.76,846],[40.84,980],[40.95,1180],[41.06,1314],[41.14,1414],[41.22,1848],[41.3,2049],[41.38,2183],[41.46,1715],[41.54,1448],[41.65,1314],[41.75,1247],[41.86,1180],[41.97,880],[42.05,1047],[42.13,913],[42.21,813],[42.29,1047],[42.37,1180],[42.45,947],[42.53,713],[42.61,1247],[42.69,1581],[42.77,1448],[42.85,2383],[42.93,2316],[43.01,2650],[43.09,3017],[43.14,2784],[43.22,2249],[43.3,1982],[43.39,1448],[43.48,1381],[43.58,1414],[43.66,1882],[43.77,1915],[43.84,1782],[43.92,1448],[44.01,1381],[44.09,1414],[44.17,1314],[44.25,913],[44.36,1314],[44.44,2015],[44.52,1915],[44.6,1314],[44.68,846],[44.76,1047],[44.84,1815],[44.94,1581],[45.1,1581],[45.24,1247],[45.4,1347],[45.51,2183],[45.59,1848],[45.7,2850],[45.78,2116],[45.91,2015],[45.99,2283],[46.07,2516],[46.15,2149],[46.26,2483],[46.37,2717],[46.47,2583],[46.55,3585],[46.63,3251],[46.71,3852],[46.78,4287],[46.85,3919],[46.92,2450],[47.01,2483],[47.12,2450],[47.25,2249],[47.38,1848],[47.52,1314],[47.68,1180],[47.81,1147],[47.92,1247],[48.05,1047],[48.16,846],[48.27,1047],[48.38,1314],[48.48,1715],[48.59,2015],[48.73,2249],[48.86,2483],[48.99,2650],[49.1,2850],[49.19,2617],[49.29,2884],[49.39,1949],[49.5,2249],[49.66,2516],[49.82,3118],[49.93,3585],[50.06,3852],[50.2,3999],[50.33,3852],[50.49,3618],[50.67,3418],[50.87,3251],[51.03,3284],[51.2,3385],[51.34,3518],[51.46,3652],[51.61,3051],[51.74,2650],[51.91,2015],[52.01,2550],[52.1,3017],[52.21,2817],[52.34,2650],[52.48,2650],[52.61,2850],[52.77,2650],[52.95,2516],[53.15,2450],[53.36,2436],[53.55,2917],[53.71,2951],[53.84,3318],[53.9,3305],[53.98,1314],[54.09,2249],[54.14,3599],[54.22,3051],[54.3,1114],[54.41,1180],[54.52,1013],[54.6,980],[54.69,2183],[54.78,2249],[54.89,2750],[54.96,3532],[55.05,2116],[55.16,1915],[55.27,1247],[55.35,1180],[55.43,2249],[55.51,2850],[55.59,3118],[55.67,3652],[55.75,2316],[55.83,2383],[55.91,2349],[55.99,1915],[56.1,1314],[56.18,980],[56.26,780],[56.34,512],[56.42,1314],[56.47,1782],[56.55,1180],[56.63,1581],[56.74,1314],[56.82,1715],[56.9,1448],[56.98,1114],[57.06,1581],[57.17,1715],[57.25,1514],[57.36,2049],[57.46,1982],[57.57,1414],[57.65,1915],[57.76,1982],[57.87,2383],[57.95,2984],[58.03,2516],[58.08,1581],[58.13,1047],[58.21,4687],[58.27,2917],[58.35,2249],[58.43,1047],[58.51,780],[58.59,1180],[58.67,2049],[58.75,2917],[58.83,3518],[58.91,3452],[58.99,4053],[59.07,3051],[59.15,2049],[59.21,1214],[59.29,1247],[59.37,2383],[59.45,2850],[59.53,1314],[59.64,1281],[59.74,1381],[59.85,1314],[59.96,1334]
];

const XRF_22GC8 = [
[39.34,811],[39.4,1115],[39.48,1216],[39.56,1182],[39.64,1115],[39.72,946],[39.8,912],[39.88,980],[39.96,912],[40.01,1351],[40.09,1723],[40.15,1351],[40.23,912],[40.31,1115],[40.39,1014],[40.47,1149],[40.55,980],[40.63,1047],[40.71,912],[40.79,1081],[40.87,946],[40.95,845],[41.03,743],[41.11,1014],[41.19,1284],[41.27,1216],[41.35,1757],[41.41,1351],[41.48,1047],[41.56,1047],[41.65,1081],[41.75,1047],[41.86,1351],[41.94,1047],[42.02,946],[42.1,1047],[42.18,946],[42.26,676],[42.31,811],[42.39,980],[42.47,1047],[42.55,1014],[42.63,1216],[42.71,1284],[42.79,1115],[42.87,1622],[42.94,2331],[43.01,2399],[43.09,2162],[43.17,2365],[43.25,2027],[43.33,1689],[43.41,1115],[43.49,1047],[43.58,1081],[43.66,1047],[43.74,1081],[43.82,1047],[43.9,946],[43.98,878],[44.06,980],[44.14,878],[44.22,946],[44.3,1047],[44.38,1351],[44.46,2432],[44.51,2297],[44.6,1351],[44.68,1081],[44.76,1622],[44.84,1419],[44.92,1318],[45.0,1960],[45.08,1757],[45.13,1520],[45.21,1351],[45.31,1385],[45.4,1385],[45.51,2162],[45.57,1892],[45.64,2297],[45.72,2331],[45.78,1824],[45.84,2095],[45.91,2095],[45.98,1824],[46.04,2432],[46.12,2297],[46.2,2162],[46.29,2027],[46.34,2432],[46.42,2568],[46.47,2162],[46.53,2770],[46.58,2703],[46.66,3176],[46.74,3378],[46.82,3392],[46.87,1216],[46.96,1284],[47.05,1250],[47.14,1216],[47.25,1318],[47.36,1351],[47.44,1216],[47.52,1284],[47.6,1149],[47.68,1284],[47.76,1149],[47.84,1250],[47.95,1149],[48.05,980],[48.13,845],[48.22,1081],[48.32,1622],[48.43,1824],[48.54,2027],[48.64,1993],[48.75,2061],[48.86,2534],[48.97,2534],[49.07,2635],[49.19,2399],[49.33,2027],[49.42,1419],[49.53,2027],[49.66,2534],[49.8,2365],[49.9,2196],[50.0,2061],[50.1,2331],[50.23,2230],[50.36,2432],[50.52,2770],[50.68,2838],[50.8,2905],[50.98,2770],[51.16,2568],[51.38,2230],[51.57,1791],[51.67,2568],[51.81,3682],[51.91,3311],[52.05,2737],[52.21,2297],[52.37,1723],[52.5,2568],[52.58,2568],[52.68,3074],[52.77,1791],[52.88,2297],[52.99,2737],[53.08,2703],[53.15,2297],[53.23,2737],[53.31,2500],[53.39,2838],[53.47,2162],[53.55,2635],[53.63,2973],[53.71,2905],[53.82,2872],[53.9,1115],[53.98,1419],[54.06,3311],[54.14,3243],[54.22,1047],[54.35,1027],[54.62,1115],[54.86,1027],[55.09,946],[55.29,811],[55.45,743],[55.67,811],[55.86,1014],[56.03,1250],[56.23,2027],[56.37,2703],[56.53,3345],[56.9,2905],[57.24,2534],[57.57,2872],[57.95,3345],[58.03,1453],[58.11,3108],[58.19,3074],[58.3,3108],[58.38,743],[58.48,845],[58.59,1757],[58.7,1824],[58.81,2432],[58.89,3243],[58.98,4054],[59.07,3514],[59.15,2568],[59.23,1230],[59.34,3311],[59.45,2568],[59.56,2027],[59.66,1432]
];

const RPI_25GC1 = [
[30.0,0.991],[30.12,1.076],[30.25,0.844],[30.58,0.898],[30.71,0.822],[30.88,0.853],[31.09,0.964],[31.46,1.209],[31.67,1.444],[31.89,1.511],[32.06,1.844],[33.66,1.533],[34.17,1.111],[34.28,0.956],[34.65,0.556],[35.51,1.289],[35.95,0.867],[36.09,0.853],[36.15,0.831],[36.23,0.933],[36.29,0.769],[36.39,0.778],[36.49,0.72],[36.61,0.587],[36.85,0.747],[37.09,0.898],[37.36,0.742],[37.39,0.933],[38.22,0.836],[38.3,1.276],[38.38,1.12],[38.46,0.933],[38.66,0.831],[38.73,0.742],[38.89,0.658],[38.97,0.578],[39.05,0.511],[39.12,0.378],[39.2,0.609],[39.29,0.564],[39.37,0.476],[39.46,0.489],[39.56,0.622],[39.66,0.578],[39.73,0.622],[39.91,0.68],[40.13,0.533],[40.34,0.4],[40.6,0.289],[40.87,0.4],[40.95,0.324],[41.07,0.356],[41.21,0.244],[41.3,0.102],[41.54,0.102],[41.67,0.236],[41.78,0.267],[41.92,0.267],[42.01,0.276],[42.17,0.236],[42.25,0.324],[42.35,0.431],[42.48,0.542],[42.61,0.578],[42.72,0.622],[42.88,0.431],[43.58,1.053],[43.79,0.978],[43.87,0.867],[43.98,0.778],[44.06,0.956],[44.22,0.742],[44.29,0.933],[44.42,1.067],[44.52,0.933],[44.76,1.009],[45.57,1.089],[47.02,1.391],[47.36,1.409],[47.48,1.267],[47.59,1.2],[47.65,1.28],[47.83,1.289],[47.95,1.098],[48.08,1.08],[48.29,0.991],[48.46,0.947],[48.56,1.044],[49.07,1.0],[49.13,1.244],[49.69,1.48],[50.04,1.556],[50.52,1.369],[51.03,1.502],[51.24,1.444],[51.87,1.253],[52.48,1.689],[53.08,1.987],[54.86,1.476],[55.02,1.244],[56.45,1.213],[57.2,1.413],[58.22,1.333],[59.78,1.124],[60.0,1.022]
];

const RPI_24GC3 = [
[30.0,0.741],[30.1,0.83],[30.17,0.821],[30.25,0.652],[30.32,0.964],[30.39,1.165],[30.46,0.719],[30.52,0.652],[30.59,0.705],[30.66,0.643],[30.72,0.696],[30.79,0.607],[30.84,0.661],[30.9,0.482],[30.95,0.607],[31.03,0.83],[31.11,1.143],[31.19,1.165],[31.27,1.098],[31.35,1.121],[31.43,1.076],[31.51,1.21],[31.59,1.188],[31.65,1.366],[31.73,1.321],[31.78,1.411],[31.84,1.21],[31.92,1.478],[31.97,1.509],[32.02,1.522],[32.08,1.491],[32.16,1.522],[32.2,1.277],[32.25,1.478],[32.29,1.232],[32.35,1.433],[32.4,1.321],[32.45,1.478],[32.51,1.277],[32.56,1.455],[32.61,1.188],[32.67,1.388],[32.72,1.232],[32.8,1.42],[32.86,1.277],[32.92,1.455],[32.99,1.344],[33.07,1.165],[33.15,1.21],[33.23,1.165],[33.31,1.121],[33.38,1.031],[33.44,1.121],[33.51,1.232],[33.58,1.188],[33.66,1.277],[33.74,1.21],[33.81,1.098],[33.87,1.143],[33.94,1.076],[34.01,1.031],[34.07,0.875],[34.14,0.696],[34.21,0.83],[34.28,0.741],[34.35,0.563],[34.41,0.83],[34.48,0.696],[34.54,0.585],[34.61,0.629],[34.68,0.607],[34.75,0.629],[34.81,0.585],[34.88,0.518],[34.93,0.473],[34.99,0.629],[35.05,0.808],[35.19,0.786],[35.32,1.054],[35.4,1.054],[35.51,1.063],[35.59,0.875],[35.67,1.076],[35.72,0.808],[35.78,0.875],[35.83,0.719],[35.91,0.741],[36.02,0.696],[36.13,0.696],[36.23,0.629],[36.37,0.607],[36.5,0.607],[36.63,0.598],[36.74,0.518],[36.79,0.629],[36.88,0.563],[36.93,0.652],[36.98,0.786],[37.06,0.897],[37.14,0.786],[37.2,0.875],[37.25,0.786],[37.33,0.897],[37.41,0.808],[37.49,0.83],[37.6,0.875],[37.68,0.897],[37.76,0.987],[37.84,0.875],[37.92,0.92],[38.0,0.929],[38.08,0.942],[38.16,0.875],[38.22,0.987],[38.3,0.942],[38.38,1.009],[38.46,1.098],[38.54,1.031],[38.59,1.076],[38.65,0.853],[38.7,0.808],[38.75,0.786],[38.81,0.696],[38.86,0.652],[38.91,0.607],[38.97,0.54],[39.02,0.473],[39.08,0.406],[39.13,0.339],[39.18,0.384],[39.24,0.25],[39.29,0.317],[39.34,0.205],[39.4,0.272]
];

const RPI_22GC3 = [
[39.4,1.155],[39.46,1.133],[39.46,0.369],[39.56,0.526],[39.64,0.481],[39.73,0.571],[39.83,0.661],[39.91,0.728],[40.0,0.683],[40.09,0.616],[40.2,0.571],[40.31,0.526],[40.42,0.458],[40.52,0.346],[40.6,0.301],[40.68,0.256],[40.76,0.369],[40.84,0.413],[40.95,0.391],[41.06,0.346],[41.14,0.256],[41.22,0.144],[41.3,0.076],[41.41,0.099],[41.51,0.121],[41.62,0.144],[41.73,0.189],[41.84,0.256],[41.94,0.346],[42.02,0.458],[42.1,0.526],[42.21,0.616],[42.32,0.683],[42.45,0.818],[42.56,0.818],[42.69,0.796],[42.93,0.84],[43.66,1.02],[43.79,1.2],[43.89,1.178],[43.98,1.209],[44.09,1.155],[44.17,1.2],[44.28,1.133],[44.38,1.178],[44.52,1.209],[44.62,1.155],[44.76,1.133],[44.84,1.101],[45.51,1.043],[45.57,0.998],[45.67,1.142],[45.98,0.944],[46.31,1.02],[46.54,1.222],[46.69,1.326],[46.82,1.389],[47.09,1.551],[47.38,1.604],[47.65,1.411],[47.89,1.357],[48.05,1.335],[48.35,1.434],[48.89,1.591],[49.9,1.636],[50.68,1.874],[51.47,1.942],[52.1,1.955],[52.64,2.076],[53.17,2.054],[53.68,1.82],[54.06,2.009],[54.22,1.762],[54.38,1.784],[54.6,1.537],[54.86,1.492],[55.1,1.492],[55.33,1.321],[55.56,1.515],[55.78,1.29],[56.02,1.074],[56.2,1.074],[56.74,1.142],[56.97,1.11],[57.2,1.29],[57.44,1.254],[57.68,1.209],[58.04,0.917],[58.17,0.917],[58.35,0.93],[58.48,0.885],[58.67,0.683],[58.86,0.301],[58.91,0.369],[59.07,0.831],[59.2,0.944],[59.45,1.124],[59.61,0.989],[60.0,0.773]
];

const RPI_22GC4 = [
[39.4,0.402],[39.46,0.446],[39.53,0.513],[39.61,0.58],[39.69,0.625],[39.77,0.58],[39.87,0.714],[39.96,0.679],[40.07,0.647],[40.17,0.625],[40.27,0.58],[40.36,0.625],[40.44,0.536],[40.52,0.402],[40.6,0.268],[40.68,0.179],[40.76,0.268],[40.84,0.379],[40.95,0.402],[41.06,0.335],[41.14,0.29],[41.22,0.201],[41.3,0.112],[41.41,0.134],[41.51,0.179],[41.62,0.223],[41.73,0.259],[41.84,0.29],[41.94,0.402],[42.05,0.491],[42.16,0.625],[42.26,0.714],[42.37,0.804],[42.48,0.871],[42.59,0.929],[42.69,0.938],[42.81,0.893],[42.93,0.781],[43.15,0.848],[43.42,0.871],[43.55,0.96],[43.61,0.848],[43.75,0.991],[43.84,0.96],[43.95,0.893],[44.06,1.027],[44.15,1.071],[44.24,1.004],[44.32,1.049],[44.42,1.205],[44.48,1.071],[44.62,1.107],[44.84,1.107],[45.1,1.049],[45.67,1.049],[46.55,1.192],[46.74,1.138],[46.87,1.17],[46.98,1.25],[47.36,1.504],[47.76,1.464],[48.26,1.25],[48.35,1.183],[48.5,1.25],[48.73,1.375],[49.06,1.598],[49.23,1.75],[49.5,1.808],[49.82,1.674],[50.17,1.629],[50.33,1.75],[50.53,1.732],[50.71,1.696],[51.43,1.629],[52.41,1.585],[52.61,1.594],[52.81,1.482],[53.01,1.339],[53.32,1.272],[53.52,1.25],[54.11,1.116],[54.52,1.304],[56.1,1.04],[56.26,0.915],[56.45,1.125],[56.84,1.228],[57.24,1.295],[57.48,1.375],[57.77,1.147],[58.01,1.013],[58.22,1.013],[58.38,0.969],[58.51,0.982],[58.71,0.893],[59.04,0.817],[59.21,0.893],[59.42,1.027],[59.61,0.924],[59.82,0.902],[59.99,0.714]
];

const RPI_22GC6 = [
[39.34,1.53],[39.4,1.53],[39.42,1.038],[39.46,0.546],[39.53,0.635],[39.61,0.635],[39.73,0.68],[39.87,0.635],[40.07,0.591],[40.27,0.546],[40.4,0.501],[40.49,0.367],[40.58,0.277],[40.67,0.166],[40.74,0.143],[40.82,0.233],[40.9,0.277],[41.0,0.277],[41.11,0.188],[41.2,0.121],[41.3,0.076],[41.41,0.098],[41.51,0.121],[41.62,0.152],[41.74,0.188],[41.84,0.233],[41.94,0.322],[42.05,0.412],[42.16,0.523],[42.26,0.613],[42.37,0.658],[42.48,0.702],[42.59,0.68],[42.69,0.635],[42.81,0.537],[42.99,0.523],[43.42,0.949],[43.58,1.083],[43.84,1.083],[44.09,1.128],[44.42,1.374],[44.7,1.374],[44.84,1.329],[44.97,1.293],[45.17,1.092],[45.37,1.038],[45.51,0.957],[45.64,1.128],[46.04,0.957],[46.38,1.011],[46.51,1.074],[46.55,1.239],[46.65,1.262],[46.74,1.217],[46.85,1.284],[47.02,1.432],[47.32,1.472],[47.92,1.217],[48.97,1.955],[49.33,1.924],[50.17,1.897],[51.7,1.776],[53.17,1.494],[57.3,1.463],[57.73,1.351],[58.0,1.163],[58.24,1.029],[58.48,1.136],[58.62,0.971],[58.78,0.957],[58.98,0.94],[59.38,1.083],[59.82,1.105],[60.0,1.038]
];

const RPI_22GC8 = [
[39.34,1.438],[39.4,1.124],[39.42,0.629],[39.46,0.449],[39.53,0.427],[39.61,0.517],[39.69,0.584],[39.8,0.652],[39.91,0.683],[40.01,0.629],[40.12,0.539],[40.23,0.449],[40.34,0.404],[40.44,0.36],[40.55,0.292],[40.66,0.225],[40.74,0.247],[40.82,0.337],[40.92,0.351],[41.03,0.337],[41.14,0.292],[41.22,0.202],[41.3,0.09],[41.38,0.112],[41.49,0.157],[41.59,0.18],[41.7,0.202],[41.81,0.225],[41.92,0.27],[42.0,0.382],[42.08,0.449],[42.16,0.517],[42.24,0.584],[42.35,0.683],[42.43,0.764],[42.51,0.809],[43.26,0.697],[43.39,0.831],[43.58,1.088],[43.66,0.989],[43.79,1.056],[43.95,0.966],[44.15,0.876],[44.62,1.312],[44.84,1.326],[45.08,1.222],[45.27,1.258],[45.44,1.326],[45.57,1.303],[45.78,1.267],[46.02,0.899],[46.31,1.07],[46.51,1.16],[46.65,1.326],[46.81,1.236],[46.89,1.528],[47.01,1.618],[47.18,1.618],[47.28,1.429],[47.41,1.249],[47.61,1.236],[47.76,1.2],[47.95,1.056],[48.39,0.822],[48.72,1.371],[49.33,1.627],[49.77,1.852],[50.2,1.699],[50.6,1.955],[51.08,1.47],[51.61,1.708],[51.97,1.708],[52.32,1.699],[52.61,1.865],[52.91,1.627],[53.15,1.991],[53.42,2.0],[54.29,1.564],[54.82,1.474],[55.32,1.371],[56.2,1.339],[57.91,1.07],[58.17,1.088],[58.48,1.133],[58.78,0.751],[59.45,0.854],[60.0,0.822]
];

// ---------- scales (value anchored to page pixel) ----------
type Anchor = [number, number, number, number]; // v1, p1, v2, p2

const SC_D18O: Anchor = [-38, 94, -44, 213];
const SC_IRD: Anchor = [0, 297.7, 1, 446.7];
const SC_IRD_GC1: Anchor = [0, 247.3, 1, 396.7];
const SC_CARB_GC3: Anchor = [40, 521.7, 10, 661.7];
const SC_CARB_GC1: Anchor = [20, 620.7, 52, 471.3];
const SC_XRF_GC3: Anchor = [4000, 733.3, 1000, 882.3];
const SC_XRF_GC1: Anchor = [4000, 682.7, 1000, 832.7];
const SC_XRF_22GC3: Anchor = [4000, 732.6, 1000, 882.3];
const SC_XRF_GC8: Anchor = [4000, 782.7, 1000, 930.7];
const SC_RPI_24GC3: Anchor = [2, 969.3, 0, 1118.7];
const SC_RPI_GC1: Anchor = [2, 931.7, 0, 1081.7];
const SC_RPI_22GC3: Anchor = [2, 1007.3, 0, 1155.7];
const SC_RPI_GC4: Anchor = [2, 1044, 0, 1193.3];
const SC_RPI_GC6: Anchor = [2, 1081.7, 0, 1230.7];
const SC_RPI_GC8: Anchor = [2, 1118.3, 0, 1266.7];

function valAt(a: Anchor, p: number) {
  const [v1, p1, v2, p2] = a;
  return v1 + ((p - p1) * (v2 - v1)) / (p2 - p1);
}

function fullDomain(a: Anchor): { domain: [number, number]; reversed: boolean } {
  const top = valAt(a, PLOT_TOP);
  const bot = valAt(a, PLOT_BOTTOM);
  return top > bot ? { domain: [bot, top], reversed: false } : { domain: [top, bot], reversed: true };
}

type Series = { id: string; data: number[][]; color: string; scale: Anchor; dots?: boolean; width?: number };

const SERIES: Series[] = [
  { id: "d18o", data: NGRIP_D18O, color: C.blue, scale: SC_D18O, width: 1.4 },
  { id: "ird1", data: IRD_25GC1, color: C.orange, scale: SC_IRD_GC1 },
  { id: "ird3", data: IRD_24GC3, color: C.red, scale: SC_IRD },
  { id: "ird8", data: IRD_22GC8, color: C.black, scale: SC_IRD },
  { id: "carb1", data: CARB_25GC1, color: C.orange, scale: SC_CARB_GC1 },
  { id: "carb3", data: CARB_24GC3, color: C.red, scale: SC_CARB_GC3 },
  { id: "xrf1", data: XRF_25GC1, color: C.orange, scale: SC_XRF_GC1 },
  { id: "xrf3", data: XRF_24GC3, color: C.red, scale: SC_XRF_GC3 },
  { id: "xrf22", data: XRF_22GC3, color: C.green, scale: SC_XRF_22GC3 },
  { id: "xrf8", data: XRF_22GC8, color: C.black, scale: SC_XRF_GC8 },
  { id: "rpi1", data: RPI_25GC1, color: C.orange, scale: SC_RPI_GC1, dots: true },
  { id: "rpi3", data: RPI_24GC3, color: C.red, scale: SC_RPI_24GC3, dots: true },
  { id: "rpi22", data: RPI_22GC3, color: C.green, scale: SC_RPI_22GC3, dots: true },
  { id: "rpi4", data: RPI_22GC4, color: C.lblue, scale: SC_RPI_GC4, dots: true },
  { id: "rpi6", data: RPI_22GC6, color: C.magenta, scale: SC_RPI_GC6, dots: true },
  { id: "rpi8", data: RPI_22GC8, color: C.black, scale: SC_RPI_GC8, dots: true },
];

const toPts = (arr: number[][]) => arr.map(([x, y]) => ({ x, y }));

// ---------- axis segments ----------
type AxisSpec = {
  x: number; side: "left" | "right"; dir: "l" | "r";
  scale: Anchor; vTop: number; vBot: number;
  ticks: number[]; major: number[]; labels: boolean;
  color: string; labelColor?: string; majorLen: number; minorLen: number;
  fmt: (v: number) => string; gap?: number;
};

const fmt1 = (v: number) => v.toFixed(1);
const fmt0 = (v: number) => String(Math.round(v));

const AXES: AxisSpec[] = [
  { x: 829, side: "right", dir: "r", scale: SC_D18O, vTop: -37, vBot: -45, ticks: D18O_TICKS, major: D18O_LABELS, labels: true, color: C.blue, majorLen: 9, minorLen: 6, fmt: fmt1 },
  { x: 83, side: "left", dir: "l", scale: SC_IRD_GC1, vTop: 0, vBot: 1, ticks: IRD_TICKS, major: [], labels: false, color: C.orange, majorLen: 8, minorLen: 8, fmt: fmt1 },
  { x: 66, side: "left", dir: "l", scale: SC_IRD, vTop: 0, vBot: 1, ticks: IRD_TICKS, major: IRD_LABELS, labels: true, color: C.red, labelColor: C.redText, majorLen: 9, minorLen: 5, fmt: fmt1 },
  { x: 829, side: "right", dir: "r", scale: SC_IRD, vTop: 0, vBot: 1, ticks: IRD_TICKS, major: IRD_LABELS, labels: true, color: C.black, majorLen: 9, minorLen: 5, fmt: fmt1 },
  { x: 83, side: "left", dir: "l", scale: SC_CARB_GC1, vTop: 52, vBot: 20, ticks: CARB1_TICKS, major: [], labels: false, color: C.orange, majorLen: 8, minorLen: 8, fmt: fmt0 },
  { x: 66, side: "left", dir: "l", scale: SC_CARB_GC3, vTop: 40, vBot: 8, ticks: CARB3_TICKS, major: CARB_LABELS, labels: true, color: C.red, labelColor: C.redText, majorLen: 9, minorLen: 5, fmt: fmt0 },
  { x: 83, side: "left", dir: "l", scale: SC_XRF_GC1, vTop: 4000, vBot: 1000, ticks: XRF_TICKS, major: [], labels: false, color: C.orange, majorLen: 8, minorLen: 8, fmt: fmt0 },
  { x: 66, side: "left", dir: "l", scale: SC_XRF_GC3, vTop: 4000, vBot: 1000, ticks: XRF_TICKS, major: XRF_LABELS, labels: true, color: C.red, labelColor: C.redText, majorLen: 9, minorLen: 5, fmt: fmt0 },
  { x: 838, side: "right", dir: "l", scale: SC_XRF_22GC3, vTop: 4000, vBot: 1000, ticks: XRF_TICKS, major: [], labels: false, color: C.green, majorLen: 9, minorLen: 9, fmt: fmt0 },
  { x: 846, side: "right", dir: "r", scale: SC_XRF_GC8, vTop: 4000, vBot: 1000, ticks: XRF_TICKS, major: XRF_LABELS, labels: true, color: C.black, majorLen: 6, minorLen: 4, fmt: fmt0, gap: 15 },
  { x: 83, side: "left", dir: "l", scale: SC_RPI_GC1, vTop: 2, vBot: 0, ticks: RPI_TICKS, major: [], labels: false, color: C.orange, majorLen: 8, minorLen: 8, fmt: fmt0 },
  { x: 66, side: "left", dir: "l", scale: SC_RPI_24GC3, vTop: 2, vBot: 0, ticks: RPI_TICKS, major: RPI_LABELS, labels: true, color: C.red, labelColor: "#7a1c10", majorLen: 9, minorLen: 5, fmt: fmt0 },
  { x: 829, side: "right", dir: "r", scale: SC_RPI_GC8, vTop: 2, vBot: 0, ticks: RPI_TICKS, major: [], labels: false, color: C.black, majorLen: 9, minorLen: 9, fmt: fmt0 },
  { x: 854.3, side: "right", dir: "l", scale: SC_RPI_GC6, vTop: 2, vBot: 0, ticks: RPI_TICKS, major: [], labels: false, color: C.magenta, majorLen: 8, minorLen: 8, fmt: fmt0 },
  { x: 862.7, side: "right", dir: "r", scale: SC_RPI_GC4, vTop: 2, vBot: 0, ticks: RPI_TICKS, major: [], labels: false, color: C.lblue, majorLen: 8, minorLen: 8, fmt: fmt0 },
  { x: 879.3, side: "right", dir: "r", scale: SC_RPI_22GC3, vTop: 2, vBot: 0, ticks: RPI_TICKS, major: RPI_LABELS, labels: true, color: C.green, majorLen: 9, minorLen: 6, fmt: fmt0, gap: 16 },
];

const isIn = (v: number, arr: number[]) => arr.some((a) => Math.abs(a - v) < 1e-6);

function makeYTick(spec: AxisSpec) {
  return (props: any) => {
    const { x, y, payload } = props;
    const v = payload.value as number;
    const maj = isIn(v, spec.major);
    const len = maj ? spec.majorLen : spec.minorLen;
    const x2 = spec.dir === "l" ? x - len : x + len;
    const gap = spec.gap ?? 16;
    return (
      <g>
        <line x1={x} y1={y} x2={x2} y2={y} stroke={spec.color} strokeWidth={1.3} />
        {spec.labels && maj ? (
          <text
            x={spec.dir === "l" ? x - gap : x + gap}
            y={y}
            dy="0.36em"
            textAnchor={spec.dir === "l" ? "end" : "start"}
            fontFamily={FONT}
            fontWeight="bold"
            fontSize={17}
            fill={spec.labelColor ?? spec.color}
          >
            {spec.fmt(v)}
          </text>
        ) : null}
      </g>
    );
  };
}

function makeAgeTick(side: "top" | "bottom") {
  return (props: any) => {
    const { x, y, payload } = props;
    const v = payload.value as number;
    const maj = v % 5 === 0;
    const len = maj ? 10 : 6;
    const s = side === "top" ? -1 : 1;
    return (
      <g>
        <line x1={x} y1={y} x2={x} y2={y + s * len} stroke={C.axis} strokeWidth={1.5} />
        {maj ? (
          <text x={x} y={side === "top" ? y - 18 : y + 31} textAnchor="middle" fontFamily={FONT} fontWeight="bold" fontSize={17} fill="#111">
            {v}
          </text>
        ) : null}
      </g>
    );
  };
}

const DUMMY = [{ x: 0 }, { x: 1 }];

function AxisLayer({ spec }: { spec: AxisSpec }) {
  const pTop = valToPx(spec.scale, spec.vTop);
  const pBot = valToPx(spec.scale, spec.vBot);
  const reversed = spec.vTop < spec.vBot;
  const domain: [number, number] = reversed ? [spec.vTop, spec.vBot] : [spec.vBot, spec.vTop];
  const axisW = spec.side === "left" ? 40 : Math.max(1, W - spec.x);
  const margin =
    spec.side === "left"
      ? { top: pTop, bottom: H - pBot, left: spec.x - axisW, right: 10 }
      : { top: pTop, bottom: H - pBot, left: 10, right: 0 };
  return (
    <div style={{ position: "absolute", left: 0, top: 0, pointerEvents: "none" }}>
      <ComposedChart width={W} height={H} margin={margin} data={DUMMY}>
        <XAxis type="number" dataKey="x" domain={[0, 1]} hide />
        <YAxis
          type="number"
          orientation={spec.side}
          width={axisW}
          domain={domain}
          reversed={reversed}
          allowDataOverflow
          ticks={spec.ticks}
          interval={0}
          tickSize={0}
          tickMargin={0}
          tickLine={false}
          axisLine={{ stroke: spec.color, strokeWidth: 1.3 }}
          tick={makeYTick(spec)}
        />
      </ComposedChart>
    </div>
  );
}

function valToPx(a: Anchor, v: number) {
  const [v1, p1, v2, p2] = a;
  return p1 + ((v - v1) * (p2 - p1)) / (v2 - v1);
}

function SeriesLayer() {
  return (
    <div style={{ position: "absolute", left: 0, top: 0 }}>
      <ComposedChart
        width={W}
        height={H}
        margin={{ top: PLOT_TOP - 30, bottom: H - PLOT_BOTTOM - 30, left: PLOT_LEFT, right: W - PLOT_RIGHT }}
      >
        <XAxis
          xAxisId="b"
          type="number"
          dataKey="x"
          orientation="bottom"
          height={30}
          domain={AGE_DOMAIN}
          allowDataOverflow
          ticks={AGE_TICKS}
          interval={0}
          tickSize={0}
          tickMargin={0}
          tickLine={false}
          axisLine={{ stroke: C.axis, strokeWidth: 1.6 }}
          tick={makeAgeTick("bottom")}
        />
        <XAxis
          xAxisId="t"
          type="number"
          dataKey="x"
          orientation="top"
          height={30}
          domain={AGE_DOMAIN}
          allowDataOverflow
          ticks={AGE_TICKS}
          interval={0}
          tickSize={0}
          tickMargin={0}
          tickLine={false}
          axisLine={{ stroke: C.axis, strokeWidth: 1.6 }}
          tick={makeAgeTick("top")}
        />
        {SERIES.map((s) => {
          const d = fullDomain(s.scale);
          return <YAxis key={"y-" + s.id} yAxisId={s.id} type="number" hide domain={d.domain} reversed={d.reversed} allowDataOverflow />;
        })}
        {AGE_GRID.map((a) => (
          <ReferenceLine key={"g" + a} xAxisId="b" yAxisId="d18o" x={a} stroke={C.grid} strokeWidth={1} strokeDasharray="3 3" ifOverflow="visible" />
        ))}
        <ReferenceLine xAxisId="b" yAxisId="d18o" x={TEPHRA_AGE} stroke={C.brown} strokeWidth={2.2} strokeDasharray="2 4" ifOverflow="visible" />
        {SERIES.map((s) => (
          <Line
            key={s.id}
            xAxisId="b"
            yAxisId={s.id}
            data={toPts(s.data)}
            dataKey="y"
            type="linear"
            stroke={s.color}
            strokeWidth={s.width ?? 1.2}
            dot={s.dots ? { r: 1.6, fill: s.color, stroke: s.color, strokeWidth: 0.6 } : false}
            activeDot={false}
            isAnimationActive={false}
          />
        ))}
      </ComposedChart>
    </div>
  );
}

const LEGEND = [
  { name: "M72/5-24-GC3", color: C.red },
  { name: "M72/5-25-GC1", color: C.orange },
  { name: "M72/5-22-GC3", color: C.green },
  { name: "M72/5-22-GC4", color: C.lblue },
  { name: "M72/5-22-GC6", color: C.magenta },
  { name: "M72/5-22-GC8", color: C.black },
];

function TextLayer() {
  const bold = { fontFamily: FONT, fontWeight: "bold" as const };
  return (
    <svg width={W} height={H} style={{ position: "absolute", left: 0, top: 0, pointerEvents: "none" }}>
      <text x={442} y={25} textAnchor="middle" {...bold} fontSize={18} fill="#111">NGRIP age (ka)</text>
      {[["a", 92], ["b", 267], ["c", 488], ["d", 707], ["e", 945]].map(([t, y]) => (
        <text key={t as string} x={11} y={y as number} fontFamily={FONT} fontSize={26} fill="#111">{t}</text>
      ))}
      <text x={93} y={100} {...bold} fontSize={17} fill={C.blue}>
        <tspan>NGRIP δ</tspan>
        <tspan fontSize={12} dy={-7}>18</tspan>
        <tspan dy={7}>O (‰)</tspan>
      </text>
      <text x={147} y={273} textAnchor="middle" {...bold} fontSize={18} fill="#111">IRD</text>
      <text x={147} y={293} textAnchor="middle" {...bold} fontSize={18} fill="#111">(normalized)</text>
      <text x={198} y={488} textAnchor="middle" {...bold} fontSize={18} fill="#111">Carbonate content</text>
      <text x={198} y={509} textAnchor="middle" {...bold} fontSize={18} fill="#111">(%)</text>
      <text transform="translate(311,470) rotate(-90)" textAnchor="end" {...bold} fontSize={17} fill={C.brown}>C.I.</text>
      <text transform="translate(329,470) rotate(-90)" textAnchor="end" {...bold} fontSize={17} fill={C.brown}>tephra</text>
      <text x={97} y={719} {...bold} fontSize={18} fill="#111">XRF Ca counts</text>
      <text x={510} y={1241} {...bold} fontSize={18} fill="#111">Rel. paleointensity</text>
      {LEGEND.map((l, i) => (
        <text key={l.name} x={123} y={1126 + i * 24.7} {...bold} fontSize={18} fill={l.color}>{l.name}</text>
      ))}
    </svg>
  );
}

export default function App() {
  return (
    <div style={{ position: "absolute", left: 0, top: 0, width: W, height: H, background: "#fff", overflow: "hidden" }}>
      <SeriesLayer />
      {AXES.map((a, i) => (
        <AxisLayer key={i} spec={a} />
      ))}
      <TextLayer />
    </div>
  );
}
